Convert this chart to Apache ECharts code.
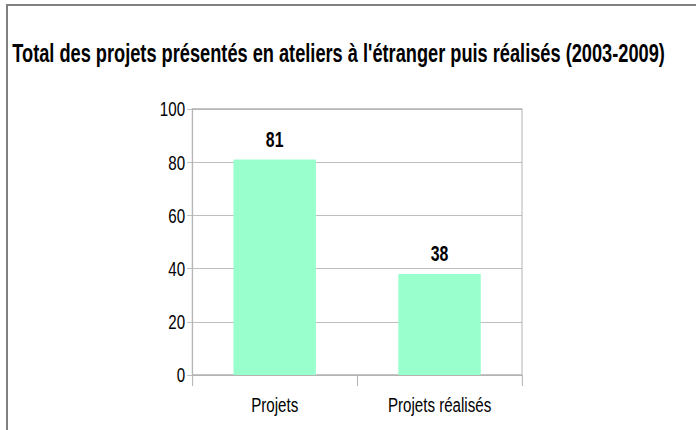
<!DOCTYPE html>
<html>
<head>
<meta charset="utf-8">
<script src="https://cdn.jsdelivr.net/npm/echarts@6/dist/echarts.min.js"></script>
<style>
  html, body { margin: 0; padding: 0; background: #fff; overflow: hidden; }
  /* the source draws with a very condensed face; squeeze the whole drawing horizontally */
  #chart { width: 967px; height: 430px; transform: scaleX(0.72); transform-origin: 0 0; }
  .frame {
    position: absolute; left: 6px; top: 4px; right: -10px; bottom: -10px;
    border-left: 2px solid #808080; border-top: 2px solid #808080;
    pointer-events: none;
  }
</style>
</head>
<body>
<div id="chart"></div>
<div class="frame"></div>
<script>
const titleText = "Total des projets présentés en ateliers à l'étranger puis réalisés (2003-2009)";
const categories = ["Projets", "Projets réalisés"];
const values = [81, 38];

const font = "'Liberation Sans', Arial, sans-serif";
const gridColor = "#b3b3b3";
const vw = 1 / 0.72; // keeps vertical lines ~1px after the squeeze

const myChart = echarts.init(document.getElementById("chart"), null, { renderer: "svg" });

const option = {
  animation: false,
  title: {
    text: titleText,
    left: 12,
    top: 36,
    textStyle: {
      fontFamily: font,
      fontWeight: "bold",
      fontSize: 25.3,
      color: "#000"
    }
  },
  grid: {
    left: 267,
    right: 242,
    top: 109,
    bottom: 55,
    show: true,
    borderColor: gridColor,
    borderWidth: vw
  },
  xAxis: {
    type: "category",
    data: categories,
    axisLine: { lineStyle: { color: gridColor, width: 1 } },
    axisTick: { show: true, length: 11, lineStyle: { color: gridColor, width: vw } },
    axisLabel: {
      interval: 0,
      fontFamily: font,
      fontSize: 21,
      color: "#000",
      margin: 19
    }
  },
  yAxis: {
    type: "value",
    min: 0,
    max: 100,
    interval: 20,
    axisLine: { show: true, lineStyle: { color: gridColor, width: vw } },
    axisTick: { show: true, length: 7, lineStyle: { color: gridColor } },
    axisLabel: {
      fontFamily: font,
      fontSize: 21,
      color: "#000",
      margin: 10
    },
    splitLine: { lineStyle: { color: gridColor, width: 1 } }
  },
  series: [
    {
      type: "bar",
      data: values,
      barWidth: "50%",
      itemStyle: { color: "#99ffcc" },
      label: {
        show: true,
        position: "top",
        distance: 9,
        fontFamily: font,
        fontWeight: "bold",
        fontSize: 22,
        color: "#000"
      }
    }
  ]
};

myChart.setOption(option);
</script>
</body>
</html>
